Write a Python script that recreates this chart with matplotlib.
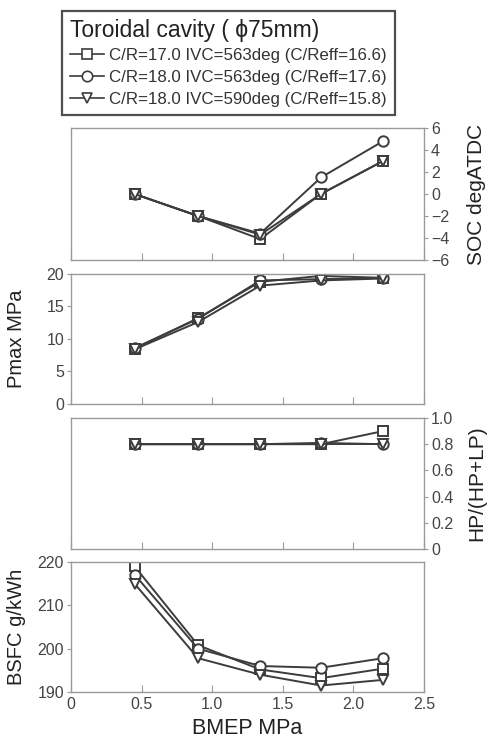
import numpy as np
import matplotlib
matplotlib.use('Agg')
from matplotlib import pyplot as plt
from matplotlib.lines import Line2D

plt.rcParams['font.family'] = ['Liberation Sans', 'DejaVu Sans']

bmep = [0.45, 0.90, 1.34, 1.77, 2.21]

labels = ['C/R=17.0 IVC=563deg (C/Reff=16.6)',
          'C/R=18.0 IVC=563deg (C/Reff=17.6)',
          'C/R=18.0 IVC=590deg (C/Reff=15.8)']
markers = ['s', 'o', 'v']

soc = [[0, -2, -4.1, 0, 3.0],
       [0, -2, -3.6, 1.5, 4.8],
       [0, -2, -3.7, 0, 3.0]]
pmax = [[8.5, 13.2, 18.8, 19.7, 19.4],
        [8.6, 13.1, 19.0, 19.2, 19.4],
        [8.4, 12.6, 18.2, 19.0, 19.3]]
hp_ratio = [[0.8, 0.8, 0.8, 0.8, 0.9],
            [0.8, 0.8, 0.8, 0.81, 0.8],
            [0.8, 0.8, 0.8, 0.8, 0.8]]
bsfc = [[219.0, 200.8, 195.2, 193.2, 195.4],
        [217.1, 200.0, 196.0, 195.6, 197.8],
        [215.0, 197.8, 194.0, 191.5, 192.8]]

linecol = '#3c3c3c'
spinecol = '#9a9a9a'

fig = plt.figure(figsize=(4.88, 7.38), dpi=100)
left, width = 0.1455, 0.7234
pos = [(0.6477, 0.1789), (0.4526, 0.1762), (0.2561, 0.1775), (0.0623, 0.1762)]
axes = [fig.add_axes([left, b, width, h]) for b, h in pos]

datasets = [soc, pmax, hp_ratio, bsfc]
ylims = [(-6, 6), (0, 20), (0, 1), (190, 220)]
yticks = [np.arange(-6, 7, 2), np.arange(0, 21, 5), np.arange(0, 1.01, 0.2), np.arange(190, 221, 10)]
ylabels = ['SOC degATDC', 'Pmax MPa', 'HP/(HP+LP)', 'BSFC g/kWh']
right_side = [True, False, True, False]

for i, ax in enumerate(axes):
    for j in range(3):
        ax.plot(bmep, datasets[i][j], color=linecol, lw=1.4, marker=markers[j],
                ms=7.5, mfc='white', mec=linecol, mew=1.4, label=labels[j])
    ax.set_xlim(0, 2.5)
    ax.set_ylim(*ylims[i])
    ax.set_yticks(yticks[i])
    ax.set_xticks([0, 0.5, 1.0, 1.5, 2.0, 2.5])
    for s in ax.spines.values():
        s.set_color(spinecol)
        s.set_linewidth(1.0)
    ax.tick_params(axis='x', direction='in', length=5, color=spinecol, labelsize=11.5, labelcolor='#444444')
    ax.tick_params(axis='y', direction='out', length=3, pad=2, color=spinecol, labelsize=11.5, labelcolor='#444444')
    if i == 2:
        ax.set_yticklabels(['0', '0.2', '0.4', '0.6', '0.8', '1.0'])
    ax.set_ylabel(ylabels[i], fontsize=15 if right_side[i] else 14.5, color='#222222')
    if right_side[i]:
        ax.yaxis.tick_right()
        ax.yaxis.set_label_position('right')
        ax.yaxis.set_label_coords(1.122, 0.5)
    else:
        ax.yaxis.set_label_coords(-0.127, 0.5)
    if i < 3:
        ax.set_xticklabels([])
    else:
        ax.set_xticklabels(['0', '0.5', '1.0', '1.5', '2.0', '2.5'])
        ax.set_xlabel('BMEP MPa', fontsize=15.5, color='#222222')
        ax.xaxis.set_label_coords(0.5, -0.2)

handles = [Line2D([], [], color=linecol, lw=1.2, marker=m, ms=7.5, mfc='white',
                  mec=linecol, mew=1.2) for m in markers]
leg = fig.legend(handles, labels, title='Toroidal cavity ( \u03d575mm)',
                 loc='upper left', bbox_to_anchor=(62 / 488, 1 - 11 / 738),
                 fontsize=12.2, title_fontsize=16.5, frameon=True, fancybox=False,
                 handlelength=2.0, handletextpad=0.35, borderpad=0.45,
                 labelspacing=0.4, borderaxespad=0)
leg._legend_box.align = 'left'
leg.get_frame().set_edgecolor('#222222')
leg.get_frame().set_linewidth(1.6)
for t in leg.get_texts():
    t.set_color('#333333')
leg.get_title().set_color('#222222')

fig.savefig('out.png', dpi=100)
